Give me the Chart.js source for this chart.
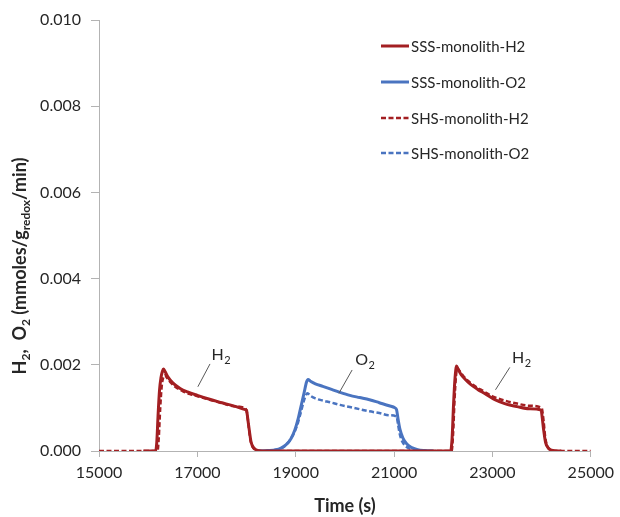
<!DOCTYPE html>
<html><head><meta charset="utf-8">
<script src="https://cdn.jsdelivr.net/npm/chart.js@4.4.1/dist/chart.umd.min.js"></script>
<style>html,body{margin:0;padding:0;background:#fff}canvas{display:block}</style>
</head><body><canvas id="c" width="620" height="517"></canvas>
<script>
// ---- data ----
const seriesNames = ['SSS-monolith-H2', 'SSS-monolith-O2', 'SHS-monolith-H2', 'SHS-monolith-O2'];

const sssH2Time = [15900, 16150, 16175, 16200, 16230, 16260, 16290, 16310, 16340, 16400, 16500, 16650, 16800, 17000, 17250, 17500, 17750, 17975, 18000, 18030, 18060, 18090, 18130, 18190, 18300, 22150, 22180, 22210, 22240, 22270, 22300, 22360, 22450, 22550, 22700, 22850, 23050, 23250, 23500, 23750, 23990, 24010, 24040, 24080, 24130, 24200, 24400];
const sssH2Rate = [0, 0, 0.0002, 0.0008, 0.0014, 0.0017, 0.00185, 0.0019, 0.00185, 0.00172, 0.00158, 0.00145, 0.00137, 0.00129, 0.0012, 0.00112, 0.00104, 0.00096, 0.00094, 0.0007, 0.00045, 0.00022, 0.0001, 0.00003, 0, 0, 0.0003, 0.0011, 0.0017, 0.00197, 0.0019, 0.00178, 0.00166, 0.00155, 0.00143, 0.00133, 0.00119, 0.0011, 0.00103, 0.00098, 0.00095, 0.0008, 0.0005, 0.0002, 0.00008, 0.00002, 0];

const sssO2Time = [18200, 18450, 18600, 18700, 18800, 18900, 18980, 19050, 19110, 19170, 19220, 19250, 19300, 19400, 19550, 19700, 19900, 20100, 20300, 20500, 20700, 20900, 21020, 21050, 21080, 21120, 21180, 21260, 21360, 21480, 21620, 21800];
const sssO2Rate = [0, 0.00001, 0.00003, 0.00007, 0.00014, 0.00028, 0.00048, 0.00075, 0.00105, 0.00135, 0.0016, 0.00166, 0.00162, 0.00156, 0.0015, 0.00144, 0.00136, 0.00129, 0.00124, 0.00119, 0.00112, 0.00105, 0.001, 0.00096, 0.00075, 0.0005, 0.0003, 0.00016, 0.00008, 0.00003, 0.00001, 0];

const shsH2Time = [15000, 16190, 16215, 16245, 16275, 16310, 16340, 16380, 16450, 16550, 16700, 16850, 17000, 17250, 17500, 17750, 17990, 18020, 18050, 18080, 18120, 18180, 18300, 22170, 22200, 22230, 22260, 22290, 22330, 22400, 22500, 22650, 22800, 23000, 23250, 23500, 23750, 24000, 24040, 24070, 24110, 24170, 24300, 25000];
const shsH2Rate = [0, 0, 0.0003, 0.001, 0.0015, 0.00172, 0.00176, 0.0017, 0.0016, 0.00149, 0.00139, 0.00132, 0.00127, 0.00119, 0.00111, 0.00104, 0.00097, 0.0008, 0.0005, 0.00025, 0.0001, 0.00003, 0, 0, 0.0004, 0.0012, 0.00175, 0.00192, 0.00186, 0.00175, 0.00163, 0.0015, 0.0014, 0.00127, 0.00117, 0.0011, 0.00105, 0.001, 0.0007, 0.00035, 0.00012, 0.00003, 0, 0];

const shsO2Time = [18250, 18500, 18650, 18750, 18850, 18950, 19030, 19100, 19160, 19210, 19240, 19300, 19400, 19550, 19700, 19900, 20100, 20300, 20500, 20700, 20900, 21050, 21080, 21110, 21150, 21210, 21290, 21400, 21530, 21680, 21850];
const shsO2Rate = [0, 0.00001, 0.00004, 0.00009, 0.0002, 0.00038, 0.0006, 0.00088, 0.00114, 0.0013, 0.00134, 0.00128, 0.00122, 0.00117, 0.00113, 0.00107, 0.00102, 0.00097, 0.00092, 0.00088, 0.00083, 0.0008, 0.00062, 0.00042, 0.00026, 0.00014, 0.00007, 0.00003, 0.00001, 0, 0];

const xTickValues = [15000, 17000, 19000, 21000, 23000, 25000];
const yTickLabels = ['0.000', '0.002', '0.004', '0.006', '0.008', '0.010'];

// annotation callouts (data coordinates): label, leader start, leader end, text anchor
const calloutNames = ['H', 'O', 'H'];
const calloutSubs = ['2', '2', '2'];
const calloutFromX = [17010, 19878, 23062];
const calloutFromY = [0.00149, 0.00134, 0.00142];
const calloutToX = [17257, 20147, 23353];
const calloutToY = [0.00202, 0.00188, 0.00194];
const calloutTextX = [17290, 20210, 23400];
const calloutTextY = [0.00211, 0.00199, 0.00204];

// ---- styles ----
const RED = '#a31f22';
const BLUE = '#4a74c0';
const AXIS = '#b3b3b3';
const TXT = '#262626';
const FONT = 'Lato, "Open Sans", sans-serif';

function pts(t, v) { return t.map((x, i) => ({x: x, y: v[i]})); }

const datasets = [
  {label: seriesNames[0], data: pts(sssH2Time, sssH2Rate), borderColor: RED, borderWidth: 3, borderDash: []},
  {label: seriesNames[1], data: pts(sssO2Time, sssO2Rate), borderColor: BLUE, borderWidth: 3, borderDash: []},
  {label: seriesNames[2], data: pts(shsH2Time, shsH2Rate), borderColor: RED, borderWidth: 2.5, borderDash: [5, 2.5]},
  {label: seriesNames[3], data: pts(shsO2Time, shsO2Rate), borderColor: BLUE, borderWidth: 2.5, borderDash: [5, 2.5]}
].map(d => Object.assign(d, {pointRadius: 0, fill: false, cubicInterpolationMode: 'monotone'}));

const overlay = {
  id: 'overlay',
  afterDraw(chart) {
    const ctx = chart.ctx, xs = chart.scales.x, ys = chart.scales.y;
    ctx.save();
    // callouts
    for (let i = 0; i < calloutNames.length; i++) {
      ctx.strokeStyle = '#595959'; ctx.lineWidth = 1; ctx.setLineDash([]);
      ctx.beginPath();
      ctx.moveTo(xs.getPixelForValue(calloutFromX[i]), ys.getPixelForValue(calloutFromY[i]));
      ctx.lineTo(xs.getPixelForValue(calloutToX[i]), ys.getPixelForValue(calloutToY[i]));
      ctx.stroke();
      const tx = xs.getPixelForValue(calloutTextX[i]), ty = ys.getPixelForValue(calloutTextY[i]);
      ctx.fillStyle = TXT; ctx.textBaseline = 'alphabetic'; ctx.textAlign = 'left';
      ctx.font = '16px ' + FONT;
      ctx.fillText(calloutNames[i], tx, ty);
      const w = ctx.measureText(calloutNames[i]).width;
      ctx.font = '11px ' + FONT;
      ctx.fillText(calloutSubs[i], tx + w + 0.5, ty + 3.5);
    }
    // legend
    const lx0 = 381, lx1 = 409, rowY = [46, 82, 118, 153];
    chart.data.datasets.forEach((d, i) => {
      ctx.strokeStyle = d.borderColor; ctx.lineWidth = d.borderWidth;
      ctx.setLineDash(d.borderDash);
      ctx.beginPath(); ctx.moveTo(lx0, rowY[i]); ctx.lineTo(lx1, rowY[i]); ctx.stroke();
      ctx.setLineDash([]);
      ctx.fillStyle = TXT; ctx.font = '15px ' + FONT; ctx.textBaseline = 'middle'; ctx.textAlign = 'left';
      ctx.fillText(d.label, 411, rowY[i] + 1);
    });
    // y axis title with subscripts
    const parts = [['H', 0], ['2', 1], [',  O', 0], ['2', 1], [' (mmoles/g', 0], ['redox', 1], ['/min)', 0]];
    const big = 'bold 18px ' + FONT, small = 'bold 12px ' + FONT;
    let total = 0;
    parts.forEach(p => { ctx.font = p[1] ? small : big; total += ctx.measureText(p[0]).width; });
    ctx.translate(26, 266);
    ctx.rotate(-Math.PI / 2);
    let x = -total / 2;
    ctx.fillStyle = TXT; ctx.textBaseline = 'alphabetic'; ctx.textAlign = 'left';
    parts.forEach(p => {
      ctx.font = p[1] ? small : big;
      ctx.fillText(p[0], x, p[1] ? 4 : 0);
      x += ctx.measureText(p[0]).width;
    });
    ctx.restore();
  }
};

new Chart(document.getElementById('c'), {
  type: 'line',
  data: {datasets: datasets},
  plugins: [overlay],
  options: {
    responsive: false, animation: false, parsing: true,
    layout: {padding: {left: 0, right: 27, top: 20, bottom: 0}},
    plugins: {legend: {display: false}, tooltip: {enabled: false}},
    scales: {
      x: {
        type: 'linear', min: 15000, max: 25000,
        afterBuildTicks: s => { s.ticks = xTickValues.map(v => ({value: v})); },
        afterFit: s => { s.height = 66; },
        grid: {drawOnChartArea: false, drawTicks: true, tickLength: 6, color: AXIS, tickColor: AXIS},
        border: {display: true, color: AXIS, width: 1},
        ticks: {color: TXT, font: {family: FONT, size: 16}, padding: 6, maxRotation: 0, callback: v => String(v)},
        title: {display: true, text: 'Time (s)', color: TXT, font: {family: FONT, size: 18, weight: 'bold'}, padding: {top: 9, bottom: 0}}
      },
      y: {
        type: 'linear', min: 0, max: 0.01,
        afterBuildTicks: s => { s.ticks = yTickLabels.map(v => ({value: parseFloat(v)})); },
        afterFit: s => { s.width = 99; },
        grid: {drawOnChartArea: false, drawTicks: true, tickLength: 8, color: AXIS, tickColor: AXIS},
        border: {display: true, color: AXIS, width: 1},
        ticks: {color: TXT, font: {family: FONT, size: 16}, padding: 10, callback: (v, i) => yTickLabels[i]}
      }
    }
  }
});
</script>
</body></html>
